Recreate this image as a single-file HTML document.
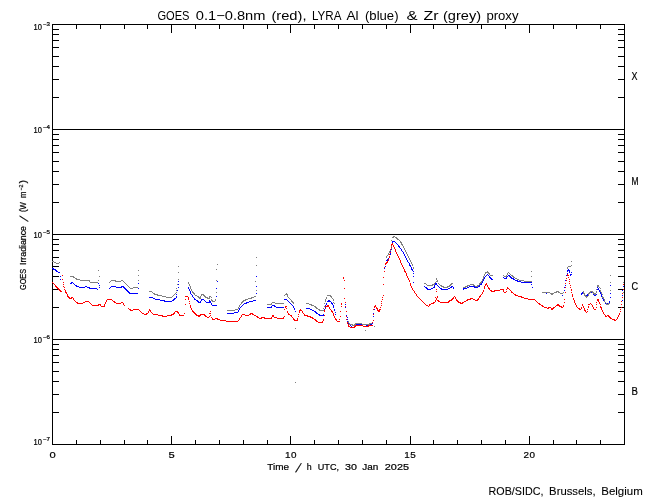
<!DOCTYPE html>
<html><head><meta charset="utf-8"><title>GOES / LYRA proxy</title>
<style>html,body{margin:0;padding:0;background:#fff}body{width:650px;height:500px;overflow:hidden}svg{display:block;will-change:transform}text{font-family:"Liberation Sans",sans-serif}</style>
</head><body>
<svg width="650" height="500" viewBox="0 0 650 500"><rect width="650" height="500" fill="#fff"/><g stroke="#000" stroke-width="1" fill="none" shape-rendering="crispEdges"><path d="M52.5,24.5 H624.5 V444.5 H52.5 Z" fill="none"/><path d="M52,129.5 H625"/><path d="M52,234.5 H625"/><path d="M52,339.5 H625"/><path d="M52,97.5 h7 M625,97.5 h-7 M52,79.5 h7 M625,79.5 h-7 M52,66.5 h7 M625,66.5 h-7 M52,56.5 h7 M625,56.5 h-7 M52,47.5 h7 M625,47.5 h-7 M52,40.5 h7 M625,40.5 h-7 M52,34.5 h7 M625,34.5 h-7 M52,29.5 h7 M625,29.5 h-7 M52,202.5 h7 M625,202.5 h-7 M52,184.5 h7 M625,184.5 h-7 M52,171.5 h7 M625,171.5 h-7 M52,161.5 h7 M625,161.5 h-7 M52,152.5 h7 M625,152.5 h-7 M52,145.5 h7 M625,145.5 h-7 M52,139.5 h7 M625,139.5 h-7 M52,134.5 h7 M625,134.5 h-7 M52,307.5 h7 M625,307.5 h-7 M52,289.5 h7 M625,289.5 h-7 M52,276.5 h7 M625,276.5 h-7 M52,266.5 h7 M625,266.5 h-7 M52,257.5 h7 M625,257.5 h-7 M52,250.5 h7 M625,250.5 h-7 M52,244.5 h7 M625,244.5 h-7 M52,239.5 h7 M625,239.5 h-7 M52,412.5 h7 M625,412.5 h-7 M52,394.5 h7 M625,394.5 h-7 M52,381.5 h7 M625,381.5 h-7 M52,371.5 h7 M625,371.5 h-7 M52,362.5 h7 M625,362.5 h-7 M52,355.5 h7 M625,355.5 h-7 M52,349.5 h7 M625,349.5 h-7 M52,344.5 h7 M625,344.5 h-7 M76.5,24 v5 M76.5,445 v-5 M100.5,24 v5 M100.5,445 v-5 M124.5,24 v5 M124.5,445 v-5 M147.5,24 v5 M147.5,445 v-5 M171.5,24 v9 M171.5,445 v-9 M195.5,24 v5 M195.5,445 v-5 M219.5,24 v5 M219.5,445 v-5 M243.5,24 v5 M243.5,445 v-5 M267.5,24 v5 M267.5,445 v-5 M290.5,24 v9 M290.5,445 v-9 M314.5,24 v5 M314.5,445 v-5 M338.5,24 v5 M338.5,445 v-5 M362.5,24 v5 M362.5,445 v-5 M386.5,24 v5 M386.5,445 v-5 M410.5,24 v9 M410.5,445 v-9 M433.5,24 v5 M433.5,445 v-5 M457.5,24 v5 M457.5,445 v-5 M481.5,24 v5 M481.5,445 v-5 M505.5,24 v5 M505.5,445 v-5 M529.5,24 v9 M529.5,445 v-9 M553.5,24 v5 M553.5,445 v-5 M576.5,24 v5 M576.5,445 v-5 M600.5,24 v5 M600.5,445 v-5"/></g><g fill="none" stroke-width="1" shape-rendering="crispEdges"><path d="M392,241.5h3M392,242.5h1M395,242.5h1M392,243.5h1M396,243.5h1M397,244.5h1M398,245.5h1M391,246.5h1M398,246.5h2M399,247.5h1M400,248.5h1M391,249.5h1M401,249.5h1M401,250.5h1M390,251.5h1M402,251.5h1M403,252.5h1M390,253.5h1M403,253.5h1M390,254.5h1M404,254.5h1M404,255.5h1M389,256.5h1M405,256.5h1M389,257.5h1M405,257.5h1M388,258.5h1M406,258.5h1M387,259.5h2M406,259.5h1M386,260.5h2M407,260.5h1M407,261.5h1M408,262.5h1M409,263.5h1M385,264.5h1M409,264.5h1M409,265.5h2M385,266.5h1M410,266.5h1M384,267.5h1M411,267.5h1M52,268.5h2M384,268.5h1M411,268.5h1M53,269.5h3M411,269.5h2M568,269.5h1M55,270.5h2M412,270.5h1M567,270.5h3M56,271.5h2M413,271.5h1M567,271.5h1M569,271.5h1M58,272.5h2M569,272.5h1M571,272.5h1M413,273.5h1M567,273.5h1M487,274.5h1M570,274.5h2M486,275.5h1M488,275.5h1M508,275.5h2M566,275.5h1M570,275.5h1M60,276.5h1M256,276.5h1M413,276.5h1M485,276.5h1M489,276.5h1M507,276.5h1M509,276.5h2M484,277.5h1M489,277.5h2M503,277.5h1M506,277.5h1M510,277.5h2M484,278.5h1M490,278.5h2M504,278.5h3M511,278.5h3M566,278.5h1M60,279.5h1M483,279.5h1M491,279.5h2M513,279.5h2M483,280.5h1M515,280.5h3M565,280.5h1M178,281.5h1M217,281.5h1M482,281.5h1M517,281.5h4M71,282.5h2M413,282.5h1M482,282.5h1M521,282.5h11M70,283.5h2M73,283.5h1M98,283.5h1M138,283.5h1M435,283.5h2M481,283.5h1M565,283.5h1M74,284.5h1M178,284.5h1M435,284.5h2M480,284.5h2M531,284.5h1M75,285.5h2M99,285.5h1M434,285.5h1M437,285.5h1M479,285.5h1M565,285.5h1M610,285.5h1M76,286.5h3M85,286.5h2M111,286.5h5M121,286.5h3M256,286.5h1M424,286.5h1M434,286.5h1M438,286.5h1M451,286.5h2M469,286.5h6M477,286.5h3M623,286.5h1M79,287.5h6M87,287.5h3M99,287.5h1M110,287.5h1M116,287.5h6M123,287.5h2M178,287.5h1M188,287.5h1M425,287.5h2M433,287.5h2M439,287.5h1M450,287.5h2M453,287.5h1M467,287.5h2M474,287.5h4M532,287.5h1M564,287.5h1M597,287.5h1M89,288.5h8M109,288.5h1M124,288.5h2M138,288.5h1M188,288.5h1M216,288.5h1M426,288.5h2M431,288.5h2M440,288.5h2M448,288.5h2M453,288.5h1M463,288.5h4M598,288.5h1M97,289.5h1M125,289.5h2M189,289.5h1M427,289.5h4M441,289.5h7M463,289.5h1M597,289.5h2M126,290.5h2M177,290.5h1M189,290.5h1M564,290.5h1M599,290.5h1M622,290.5h1M127,291.5h2M190,291.5h1M590,291.5h2M599,291.5h1M128,292.5h2M190,292.5h1M543,292.5h1M549,292.5h1M582,292.5h2M589,292.5h4M596,292.5h1M600,292.5h1M129,293.5h9M190,293.5h1M256,293.5h1M546,293.5h1M581,293.5h3M588,293.5h1M593,293.5h1M600,293.5h1M610,293.5h1M176,294.5h1M191,294.5h1M581,294.5h1M584,294.5h1M587,294.5h1M593,294.5h4M601,294.5h1M192,295.5h1M562,295.5h1M585,295.5h3M594,295.5h2M601,295.5h1M622,295.5h1M176,296.5h1M192,296.5h1M216,296.5h1M601,296.5h1M149,297.5h4M176,297.5h1M193,297.5h1M602,297.5h1M610,297.5h1M153,298.5h2M174,298.5h2M194,298.5h1M602,298.5h1M155,299.5h5M173,299.5h2M194,299.5h2M201,299.5h3M284,299.5h3M603,299.5h1M160,300.5h5M172,300.5h2M196,300.5h2M201,300.5h1M204,300.5h1M209,300.5h1M253,300.5h3M287,300.5h1M328,300.5h2M603,300.5h1M622,300.5h1M164,301.5h8M197,301.5h2M200,301.5h1M205,301.5h1M209,301.5h2M249,301.5h4M288,301.5h1M327,301.5h4M604,301.5h1M609,301.5h1M198,302.5h3M206,302.5h5M246,302.5h3M289,302.5h1M331,302.5h1M605,302.5h1M609,302.5h1M211,303.5h1M244,303.5h3M290,303.5h1M326,303.5h1M331,303.5h2M605,303.5h4M211,304.5h1M243,304.5h1M291,304.5h1M326,304.5h1M332,304.5h1M345,304.5h1M212,305.5h5M242,305.5h1M272,305.5h3M292,305.5h1M325,305.5h1M333,305.5h1M241,306.5h1M271,306.5h1M274,306.5h2M293,306.5h1M325,306.5h1M333,306.5h1M240,307.5h1M267,307.5h5M276,307.5h8M293,307.5h1M325,307.5h1M333,307.5h1M345,307.5h1M239,308.5h1M294,308.5h1M306,308.5h4M239,309.5h1M294,309.5h1M310,309.5h2M324,309.5h1M334,309.5h1M374,309.5h1M238,310.5h1M312,310.5h2M334,310.5h1M238,311.5h1M295,311.5h1M314,311.5h2M324,311.5h1M346,311.5h1M234,312.5h4M315,312.5h2M335,312.5h1M227,313.5h7M316,313.5h2M373,313.5h1M318,314.5h2M323,314.5h1M335,314.5h1M319,315.5h5M346,315.5h1M373,316.5h1M347,317.5h1M347,319.5h1M373,320.5h1M347,321.5h1M348,322.5h1M372,322.5h1M348,323.5h2M372,323.5h1M349,324.5h1M355,324.5h7M368,324.5h4M350,325.5h1M355,325.5h1M361,325.5h2M366,325.5h2M351,326.5h1M354,326.5h1M363,326.5h4M352,327.5h2" stroke="#0000ff"/><path d="M393,236.5h2M392,237.5h2M395,237.5h2M396,238.5h2M397,239.5h2M391,240.5h1M399,240.5h1M400,241.5h1M400,242.5h2M401,243.5h1M401,244.5h2M402,245.5h1M391,246.5h1M403,246.5h1M403,247.5h1M391,248.5h1M404,248.5h1M390,249.5h1M404,249.5h1M390,250.5h1M405,250.5h1M389,251.5h1M405,251.5h1M389,252.5h1M406,252.5h1M388,253.5h1M406,253.5h1M388,254.5h1M407,254.5h1M387,255.5h1M407,255.5h1M386,256.5h1M408,256.5h1M256,257.5h1M386,257.5h1M408,257.5h1M409,258.5h1M409,259.5h1M410,260.5h1M52,261.5h2M410,261.5h1M571,261.5h1M54,262.5h2M59,262.5h1M411,262.5h1M56,263.5h3M411,263.5h1M217,264.5h1M412,264.5h1M256,265.5h1M412,265.5h1M571,265.5h1M178,266.5h1M568,266.5h3M413,267.5h1M567,267.5h1M413,268.5h1M567,268.5h1M216,269.5h1M98,270.5h1M138,270.5h1M487,271.5h1M531,271.5h1M178,272.5h1M485,272.5h4M508,272.5h1M485,273.5h1M488,273.5h2M507,273.5h1M509,273.5h1M484,274.5h1M489,274.5h1M507,274.5h1M510,274.5h1M138,275.5h1M484,275.5h1M490,275.5h3M503,275.5h1M506,275.5h1M511,275.5h2M610,275.5h1M70,276.5h4M99,276.5h1M483,276.5h1M504,276.5h3M512,276.5h2M531,276.5h1M73,277.5h2M483,277.5h1M513,277.5h2M75,278.5h2M436,278.5h1M483,278.5h1M515,278.5h2M76,279.5h4M178,279.5h1M436,279.5h1M482,279.5h1M517,279.5h2M80,280.5h10M98,280.5h1M111,280.5h5M121,280.5h2M138,280.5h1M216,280.5h1M437,280.5h1M482,280.5h1M519,280.5h5M89,281.5h1M110,281.5h1M115,281.5h6M123,281.5h1M255,281.5h1M436,281.5h2M481,281.5h1M524,281.5h8M90,282.5h8M109,282.5h1M124,282.5h1M188,282.5h1M435,282.5h1M480,282.5h2M610,282.5h1M623,282.5h1M125,283.5h1M188,283.5h1M424,283.5h2M434,283.5h1M438,283.5h1M451,283.5h2M479,283.5h2M126,284.5h1M177,284.5h1M189,284.5h1M426,284.5h1M432,284.5h3M439,284.5h1M450,284.5h2M470,284.5h4M479,284.5h1M127,285.5h1M189,285.5h1M427,285.5h6M440,285.5h2M449,285.5h2M467,285.5h3M473,285.5h2M477,285.5h2M597,285.5h2M128,286.5h1M190,286.5h1M441,286.5h3M447,286.5h3M465,286.5h3M475,286.5h3M597,286.5h2M129,287.5h1M133,287.5h5M190,287.5h1M443,287.5h5M463,287.5h3M599,287.5h1M130,288.5h3M176,288.5h1M190,288.5h1M600,288.5h1M191,289.5h1M596,289.5h1M176,290.5h1M191,290.5h1M256,290.5h1M600,290.5h1M610,290.5h1M149,291.5h3M192,291.5h1M556,291.5h3M583,291.5h1M590,291.5h3M596,291.5h1M600,291.5h1M152,292.5h1M176,292.5h1M192,292.5h2M216,292.5h1M542,292.5h8M554,292.5h3M558,292.5h2M563,292.5h1M583,292.5h1M589,292.5h2M592,292.5h2M596,292.5h1M601,292.5h1M623,292.5h1M153,293.5h2M175,293.5h1M193,293.5h2M286,293.5h1M550,293.5h4M560,293.5h3M583,293.5h2M588,293.5h2M593,293.5h3M601,293.5h1M154,294.5h4M174,294.5h1M194,294.5h1M201,294.5h3M285,294.5h3M551,294.5h2M584,294.5h1M588,294.5h1M594,294.5h2M602,294.5h1M157,295.5h5M173,295.5h1M195,295.5h2M201,295.5h1M203,295.5h2M284,295.5h1M287,295.5h1M327,295.5h4M584,295.5h2M588,295.5h1M162,296.5h4M172,296.5h1M197,296.5h2M200,296.5h1M204,296.5h2M209,296.5h2M254,296.5h2M287,296.5h1M330,296.5h2M585,296.5h3M602,296.5h1M166,297.5h6M198,297.5h3M205,297.5h3M209,297.5h1M211,297.5h1M251,297.5h3M288,297.5h1M326,297.5h1M331,297.5h1M586,297.5h1M602,297.5h2M199,298.5h2M207,298.5h3M248,298.5h4M289,298.5h1M326,298.5h1M332,298.5h1M603,298.5h1M211,299.5h1M215,299.5h1M245,299.5h3M290,299.5h1M325,299.5h1M333,299.5h1M604,299.5h1M211,300.5h2M215,300.5h1M243,300.5h3M291,300.5h1M325,300.5h1M333,300.5h1M604,300.5h1M212,301.5h3M242,301.5h2M291,301.5h2M325,301.5h1M604,301.5h1M241,302.5h2M272,302.5h3M292,302.5h2M333,302.5h1M605,302.5h1M241,303.5h1M271,303.5h1M275,303.5h9M293,303.5h1M306,303.5h3M324,303.5h1M334,303.5h1M606,303.5h1M608,303.5h2M240,304.5h1M267,304.5h5M309,304.5h3M606,304.5h3M239,305.5h1M311,305.5h3M239,306.5h1M314,306.5h2M324,306.5h1M238,307.5h1M315,307.5h2M621,307.5h1M238,308.5h1M316,308.5h2M323,308.5h1M235,309.5h3M318,309.5h2M227,310.5h8M319,310.5h5M348,321.5h1M348,322.5h1M349,323.5h1M355,323.5h7M369,323.5h3M349,324.5h4M354,324.5h2M362,324.5h8M352,325.5h3M374,326.5h1M295,328.5h1M365,330.5h1M295,382.5h1" stroke="#7f7f7f"/><path d="M392,243.5h1M391,244.5h2M391,245.5h1M393,245.5h1M393,246.5h1M391,247.5h1M394,247.5h1M394,248.5h1M390,249.5h1M395,249.5h1M395,250.5h1M395,251.5h1M390,252.5h1M396,252.5h1M396,253.5h1M389,254.5h1M397,254.5h1M397,255.5h1M389,256.5h1M398,256.5h1M389,257.5h1M398,257.5h1M399,258.5h1M388,259.5h1M399,259.5h1M388,260.5h1M400,260.5h1M387,261.5h1M400,261.5h1M386,262.5h2M400,262.5h1M385,263.5h2M401,263.5h1M385,264.5h1M401,264.5h1M402,265.5h1M402,266.5h1M384,267.5h1M403,267.5h1M403,268.5h1M404,269.5h1M404,270.5h1M384,271.5h1M404,271.5h2M405,272.5h1M406,273.5h1M406,274.5h1M567,274.5h1M62,275.5h1M406,275.5h1M567,275.5h2M407,276.5h1M343,277.5h1M383,277.5h1M407,277.5h1M568,277.5h1M343,278.5h1M408,278.5h1M566,278.5h1M62,279.5h1M408,279.5h1M569,279.5h1M344,280.5h1M409,280.5h1M566,280.5h1M409,281.5h1M569,281.5h1M52,282.5h1M63,282.5h1M53,283.5h1M410,283.5h1M486,283.5h1M565,283.5h1M569,283.5h1M54,284.5h1M63,284.5h1M383,284.5h1M410,284.5h1M485,284.5h2M623,284.5h1M55,285.5h1M410,285.5h1M485,285.5h1M487,285.5h1M570,285.5h1M55,286.5h2M63,286.5h1M411,286.5h1M484,286.5h1M487,286.5h1M56,287.5h2M64,287.5h1M411,287.5h1M484,287.5h1M488,287.5h1M507,287.5h1M565,287.5h1M570,287.5h1M57,288.5h2M344,288.5h1M412,288.5h1M484,288.5h1M488,288.5h2M507,288.5h2M58,289.5h2M64,289.5h1M412,289.5h1M436,289.5h1M489,289.5h1M500,289.5h4M506,289.5h1M509,289.5h1M571,289.5h1M623,289.5h1M59,290.5h2M65,290.5h1M413,290.5h1M483,290.5h1M490,290.5h2M494,290.5h6M503,290.5h1M510,290.5h1M571,290.5h1M60,291.5h2M65,291.5h1M414,291.5h1M436,291.5h1M483,291.5h1M491,291.5h4M503,291.5h1M506,291.5h1M511,291.5h1M65,292.5h2M414,292.5h1M482,292.5h1M504,292.5h2M511,292.5h2M565,292.5h1M571,292.5h1M66,293.5h1M415,293.5h1M482,293.5h1M513,293.5h1M622,293.5h1M67,294.5h1M416,294.5h1M481,294.5h1M514,294.5h2M572,294.5h1M67,295.5h1M383,295.5h1M416,295.5h1M480,295.5h1M515,295.5h3M572,295.5h1M67,296.5h2M185,296.5h3M417,296.5h1M437,296.5h1M454,296.5h1M479,296.5h2M518,296.5h4M572,296.5h1M68,297.5h2M71,297.5h2M188,297.5h1M382,297.5h1M418,297.5h1M435,297.5h1M437,297.5h1M453,297.5h1M455,297.5h1M479,297.5h1M521,297.5h3M622,297.5h1M69,298.5h3M73,298.5h1M188,298.5h1M344,298.5h1M419,298.5h1M436,298.5h1M452,298.5h2M455,298.5h1M470,298.5h3M478,298.5h1M524,298.5h4M573,298.5h1M73,299.5h1M107,299.5h5M185,299.5h1M188,299.5h1M382,299.5h1M420,299.5h1M436,299.5h1M451,299.5h2M456,299.5h1M467,299.5h4M473,299.5h2M477,299.5h2M528,299.5h7M564,299.5h1M573,299.5h1M597,299.5h2M74,300.5h1M106,300.5h1M112,300.5h1M421,300.5h1M435,300.5h1M437,300.5h2M449,300.5h3M456,300.5h2M466,300.5h2M475,300.5h3M535,300.5h1M574,300.5h1M597,300.5h2M75,301.5h1M85,301.5h4M106,301.5h1M113,301.5h2M189,301.5h1M381,301.5h1M422,301.5h1M435,301.5h1M438,301.5h2M448,301.5h2M457,301.5h2M464,301.5h2M536,301.5h1M574,301.5h1M598,301.5h1M621,301.5h1M76,302.5h2M83,302.5h2M89,302.5h1M105,302.5h1M114,302.5h2M121,302.5h2M345,302.5h1M423,302.5h1M433,302.5h2M440,302.5h9M458,302.5h3M462,302.5h2M537,302.5h1M564,302.5h1M574,302.5h1M596,302.5h1M599,302.5h1M77,303.5h6M90,303.5h1M105,303.5h1M116,303.5h5M123,303.5h1M189,303.5h1M341,303.5h1M381,303.5h1M424,303.5h1M431,303.5h3M460,303.5h3M538,303.5h2M575,303.5h1M590,303.5h1M599,303.5h1M91,304.5h1M98,304.5h3M104,304.5h1M123,304.5h1M185,304.5h1M341,304.5h1M425,304.5h1M429,304.5h2M539,304.5h2M557,304.5h2M575,304.5h1M582,304.5h1M588,304.5h2M591,304.5h1M596,304.5h1M600,304.5h1M621,304.5h1M92,305.5h7M100,305.5h1M104,305.5h1M124,305.5h1M190,305.5h1M327,305.5h2M375,305.5h1M381,305.5h1M426,305.5h2M429,305.5h1M541,305.5h2M556,305.5h4M563,305.5h1M576,305.5h1M582,305.5h1M592,305.5h1M101,306.5h4M190,306.5h1M285,306.5h2M325,306.5h4M341,306.5h1M345,306.5h1M374,306.5h2M428,306.5h1M542,306.5h2M555,306.5h1M559,306.5h3M563,306.5h1M576,306.5h1M583,306.5h1M588,306.5h1M592,306.5h1M600,306.5h1M190,307.5h1M285,307.5h1M329,307.5h1M374,307.5h1M376,307.5h1M380,307.5h1M544,307.5h3M548,307.5h3M553,307.5h2M561,307.5h2M577,307.5h1M581,307.5h1M583,307.5h1M588,307.5h1M593,307.5h1M596,307.5h1M600,307.5h2M621,307.5h1M128,308.5h1M191,308.5h1M286,308.5h1M325,308.5h1M329,308.5h1M376,308.5h2M547,308.5h2M551,308.5h3M578,308.5h2M581,308.5h1M584,308.5h1M593,308.5h1M601,308.5h1M129,309.5h2M133,309.5h6M149,309.5h1M191,309.5h1M284,309.5h1M300,309.5h1M330,309.5h1M373,309.5h1M377,309.5h1M379,309.5h2M551,309.5h2M579,309.5h2M584,309.5h1M587,309.5h1M594,309.5h2M601,309.5h1M620,309.5h1M130,310.5h3M139,310.5h1M149,310.5h2M192,310.5h1M299,310.5h3M324,310.5h1M331,310.5h1M377,310.5h3M584,310.5h2M602,310.5h1M140,311.5h1M148,311.5h1M150,311.5h1M175,311.5h3M192,311.5h2M210,311.5h1M287,311.5h1M299,311.5h1M302,311.5h1M324,311.5h1M331,311.5h2M340,311.5h1M346,311.5h1M378,311.5h2M585,311.5h1M587,311.5h1M602,311.5h1M620,311.5h1M141,312.5h1M148,312.5h1M151,312.5h1M174,312.5h1M177,312.5h2M193,312.5h2M287,312.5h1M299,312.5h1M302,312.5h1M332,312.5h1M586,312.5h1M603,312.5h1M142,313.5h2M146,313.5h2M152,313.5h1M173,313.5h2M178,313.5h1M184,313.5h1M194,313.5h2M209,313.5h2M250,313.5h3M288,313.5h1M303,313.5h1M333,313.5h1M603,313.5h1M619,313.5h1M144,314.5h3M153,314.5h5M171,314.5h3M179,314.5h1M195,314.5h2M200,314.5h5M242,314.5h3M249,314.5h2M252,314.5h2M288,314.5h2M298,314.5h1M304,314.5h1M333,314.5h1M373,314.5h1M604,314.5h1M619,314.5h1M158,315.5h5M167,315.5h5M179,315.5h5M196,315.5h5M204,315.5h2M210,315.5h1M241,315.5h1M245,315.5h4M254,315.5h2M272,315.5h2M290,315.5h2M304,315.5h4M324,315.5h1M333,315.5h1M605,315.5h1M607,315.5h2M618,315.5h1M162,316.5h5M198,316.5h2M205,316.5h2M209,316.5h1M241,316.5h1M256,316.5h2M272,316.5h2M284,316.5h1M291,316.5h1M298,316.5h1M307,316.5h4M334,316.5h1M340,316.5h1M346,316.5h1M605,316.5h2M608,316.5h2M618,316.5h1M207,317.5h2M211,317.5h1M240,317.5h1M257,317.5h2M261,317.5h4M271,317.5h1M274,317.5h3M283,317.5h1M292,317.5h1M310,317.5h3M334,317.5h1M609,317.5h2M617,317.5h1M212,318.5h1M215,318.5h3M239,318.5h1M259,318.5h3M264,318.5h8M277,318.5h7M293,318.5h1M297,318.5h1M312,318.5h2M335,318.5h1M610,318.5h2M617,318.5h1M212,319.5h3M217,319.5h3M239,319.5h1M293,319.5h2M297,319.5h1M314,319.5h2M323,319.5h1M335,319.5h2M339,319.5h1M346,319.5h1M612,319.5h3M616,319.5h1M220,320.5h6M238,320.5h1M294,320.5h4M315,320.5h2M323,320.5h1M336,320.5h1M373,320.5h1M614,320.5h2M226,321.5h12M316,321.5h2M322,321.5h1M337,321.5h3M318,322.5h5M347,322.5h1M372,322.5h1M347,323.5h1M348,324.5h1M348,325.5h1M355,325.5h8M368,325.5h5M348,326.5h2M354,326.5h2M363,326.5h6M350,327.5h5" stroke="#ff0000"/></g><g font-family="'Liberation Sans', sans-serif" fill="#000" stroke="#000" stroke-width="0.22" stroke-linejoin="round"><text x="157.4" y="20" font-size="12.6" textLength="32.1" lengthAdjust="spacingAndGlyphs" stroke="none">GOES</text><text x="195.8" y="20" font-size="12.6" textLength="69.7" lengthAdjust="spacingAndGlyphs" stroke="none">0.1−0.8nm</text><text x="271.4" y="20" font-size="12.6" textLength="35.1" lengthAdjust="spacingAndGlyphs" stroke="none">(red),</text><text x="312.0" y="20" font-size="12.6" textLength="29.5" lengthAdjust="spacingAndGlyphs" stroke="none">LYRA</text><text x="346.4" y="20" font-size="12.6" textLength="12.1" lengthAdjust="spacingAndGlyphs" stroke="none">Al</text><text x="365.0" y="20" font-size="12.6" textLength="33.5" lengthAdjust="spacingAndGlyphs" stroke="none">(blue)</text><text x="406.4" y="20" font-size="12.6" textLength="11.1" lengthAdjust="spacingAndGlyphs" stroke="none">&amp;</text><text x="423.4" y="20" font-size="12.6" textLength="15.1" lengthAdjust="spacingAndGlyphs" stroke="none">Zr</text><text x="443.0" y="20" font-size="12.6" textLength="38.1" lengthAdjust="spacingAndGlyphs" stroke="none">(grey)</text><text x="486.4" y="20" font-size="12.6" textLength="32.1" lengthAdjust="spacingAndGlyphs" stroke="none">proxy</text><text x="52.5" y="457.6" font-size="9.9" text-anchor="middle" textLength="6.2" lengthAdjust="spacingAndGlyphs">0</text><text x="171.7" y="457.6" font-size="9.9" text-anchor="middle" textLength="6.2" lengthAdjust="spacingAndGlyphs">5</text><text x="290.8" y="457.6" font-size="9.9" text-anchor="middle" textLength="11.4" lengthAdjust="spacing">10</text><text x="410.0" y="457.6" font-size="9.9" text-anchor="middle" textLength="11.4" lengthAdjust="spacing">15</text><text x="529.2" y="457.6" font-size="9.9" text-anchor="middle" textLength="11.4" lengthAdjust="spacing">20</text><text x="267.3" y="470" font-size="9.7" textLength="21.7" lengthAdjust="spacingAndGlyphs">Time</text><text x="306.8" y="470" font-size="9.7" textLength="4.9" lengthAdjust="spacingAndGlyphs">h</text><text x="317.8" y="470" font-size="9.7" textLength="21.2" lengthAdjust="spacingAndGlyphs">UTC,</text><text x="345.1" y="470" font-size="9.7" textLength="11.9" lengthAdjust="spacingAndGlyphs">30</text><text x="362.3" y="470" font-size="9.7" textLength="16.0" lengthAdjust="spacingAndGlyphs">Jan</text><text x="384.8" y="470" font-size="9.7" textLength="24.2" lengthAdjust="spacingAndGlyphs">2025</text><text transform="translate(295.2,472) skewX(-20)" font-size="12">/</text><text x="33.6" y="30" font-size="8.4" textLength="8.4" lengthAdjust="spacingAndGlyphs">10</text><text x="43" y="26" font-size="5.8" textLength="7.0" lengthAdjust="spacingAndGlyphs">−3</text><text x="33.6" y="133" font-size="8.4" textLength="8.4" lengthAdjust="spacingAndGlyphs">10</text><text x="43" y="129" font-size="5.8" textLength="7.0" lengthAdjust="spacingAndGlyphs">−4</text><text x="33.6" y="238" font-size="8.4" textLength="8.4" lengthAdjust="spacingAndGlyphs">10</text><text x="43" y="234" font-size="5.8" textLength="7.0" lengthAdjust="spacingAndGlyphs">−5</text><text x="33.6" y="343" font-size="8.4" textLength="8.4" lengthAdjust="spacingAndGlyphs">10</text><text x="43" y="339" font-size="5.8" textLength="7.0" lengthAdjust="spacingAndGlyphs">−6</text><text x="33.6" y="445" font-size="8.4" textLength="8.4" lengthAdjust="spacingAndGlyphs">10</text><text x="43" y="441" font-size="5.8" textLength="7.0" lengthAdjust="spacingAndGlyphs">−7</text><g transform="translate(26.4,290) rotate(-90)"><text x="0" y="0" font-size="8.6" textLength="21" lengthAdjust="spacingAndGlyphs">GOES</text><text x="25" y="0" font-size="8.6" textLength="39" lengthAdjust="spacingAndGlyphs">Irradiance</text><text transform="translate(68.3,1.2) skewX(-20)" font-size="11.5">/</text><text x="78" y="0" font-size="8.6" textLength="10" lengthAdjust="spacingAndGlyphs">(W</text><text x="92" y="0" font-size="8.6" textLength="6.5" lengthAdjust="spacingAndGlyphs">m</text><text x="99.5" y="-3.2" font-size="5.6" textLength="6" lengthAdjust="spacingAndGlyphs">−2</text><text x="106.5" y="0" font-size="8.6" textLength="3.5" lengthAdjust="spacingAndGlyphs">)</text></g><text x="631.6" y="80" font-size="11" textLength="6.0" lengthAdjust="spacingAndGlyphs">X</text><text x="631.6" y="185" font-size="11" textLength="7.0" lengthAdjust="spacingAndGlyphs">M</text><text x="631.6" y="290" font-size="11" textLength="6.6" lengthAdjust="spacingAndGlyphs">C</text><text x="631.6" y="395" font-size="11" textLength="6.4" lengthAdjust="spacingAndGlyphs">B</text><text x="488.6" y="495" font-size="11" textLength="54.8" lengthAdjust="spacingAndGlyphs" stroke-width="0.1">ROB/SIDC,</text><text x="549.1" y="495" font-size="11" textLength="46.5" lengthAdjust="spacingAndGlyphs" stroke-width="0.1">Brussels,</text><text x="601.3000000000001" y="495" font-size="11" textLength="41.4" lengthAdjust="spacingAndGlyphs" stroke-width="0.1">Belgium</text></g></svg>
</body></html>
